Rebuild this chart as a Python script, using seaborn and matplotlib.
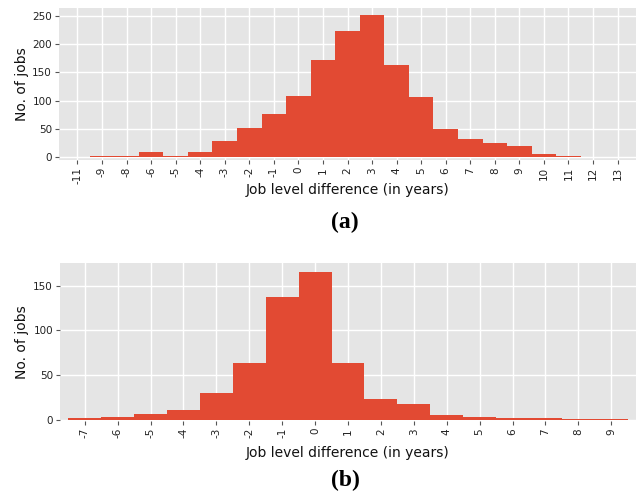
import matplotlib
matplotlib.use("Agg")
import matplotlib.pyplot as plt
import seaborn as sns
import pandas as pd

# Panel (a) data
cats_a = ['-11', '-9', '-8', '-6', '-5', '-4', '-3', '-2', '-1', '0', '1', '2', '3',
          '4', '5', '6', '7', '8', '9', '10', '11', '12', '13']
counts_a = [0.5, 2, 2, 9, 2, 9, 29, 52, 77, 108, 172, 223, 252, 163, 106, 50, 32,
            25, 19, 5, 2, 0.5, 0.5]

# Panel (b) data
cats_b = ['-7', '-6', '-5', '-4', '-3', '-2', '-1', '0', '1', '2', '3', '4', '5',
          '6', '7', '8', '9']
counts_b = [2, 3, 6.5, 11, 30, 63, 137, 166, 64, 23, 18, 5.5, 3, 1.5, 1.5, 0.5, 0.5]

xlabel = "Job level difference (in years)"
ylabel = "No. of jobs"
bar_color = "#E24A33"

plt.style.use("ggplot")
plt.rcParams["font.family"] = ["DejaVu Sans"]

fig = plt.figure(figsize=(6.38, 4.94), dpi=100)
ax_a = fig.add_axes([59 / 638, (494 - 160) / 494, 577 / 638, 152 / 494])
ax_b = fig.add_axes([60 / 638, (494 - 421) / 494, 576 / 638, 158 / 494])

df_a = pd.DataFrame({"cat": cats_a, "count": counts_a})
df_b = pd.DataFrame({"cat": cats_b, "count": counts_b})

for ax, df, cats, ylim, yticks, label_top in [
    (ax_a, df_a, cats_a, (-5.3, 264), [0, 50, 100, 150, 200, 250], 183),
    (ax_b, df_b, cats_b, (-1.5, 175.6), [0, 50, 100, 150], 446),
]:
    sns.barplot(data=df, x="cat", y="count", order=cats, color=bar_color,
                saturation=1, width=1.0, linewidth=0, errorbar=None, ax=ax)
    ax.set_xlim(-0.75, len(cats) - 0.25)
    ax.set_ylim(*ylim)
    ax.set_yticks(yticks)
    ax.tick_params(axis="x", labelrotation=90, labelsize=7.5, colors="#555555",
                   length=3, pad=2)
    ax.tick_params(axis="y", labelsize=7.5, colors="#555555", length=3, pad=2)
    for lbl in ax.get_xticklabels() + ax.get_yticklabels():
        lbl.set_color("#222222")
    ax.set_xlabel(xlabel, fontsize=10, color="#111111")
    ax.xaxis.set_label_coords(348 / 638, 1 - label_top / 494,
                              transform=fig.transFigure)
    ax.set_ylabel(ylabel, fontsize=10, color="#111111")
    ax.yaxis.set_label_coords(15 / 638, 0.5)
    ax.yaxis.label.set_transform(
        matplotlib.transforms.blended_transform_factory(fig.transFigure, ax.transAxes))
    ax.yaxis.label.set_va("top")
    ax.grid(True, color="white", linewidth=1)
    ax.set_axisbelow(True)
    for s in ax.spines.values():
        s.set_visible(False)

fig.text(345 / 638, 1 - 222 / 494, "(a)", ha="center", va="center",
         fontsize=17, fontweight="bold", family="Liberation Serif")
fig.text(345 / 638, 1 - 480 / 494, "(b)", ha="center", va="center",
         fontsize=17, fontweight="bold", family="Liberation Serif")

fig.savefig("out.png", dpi=100)
